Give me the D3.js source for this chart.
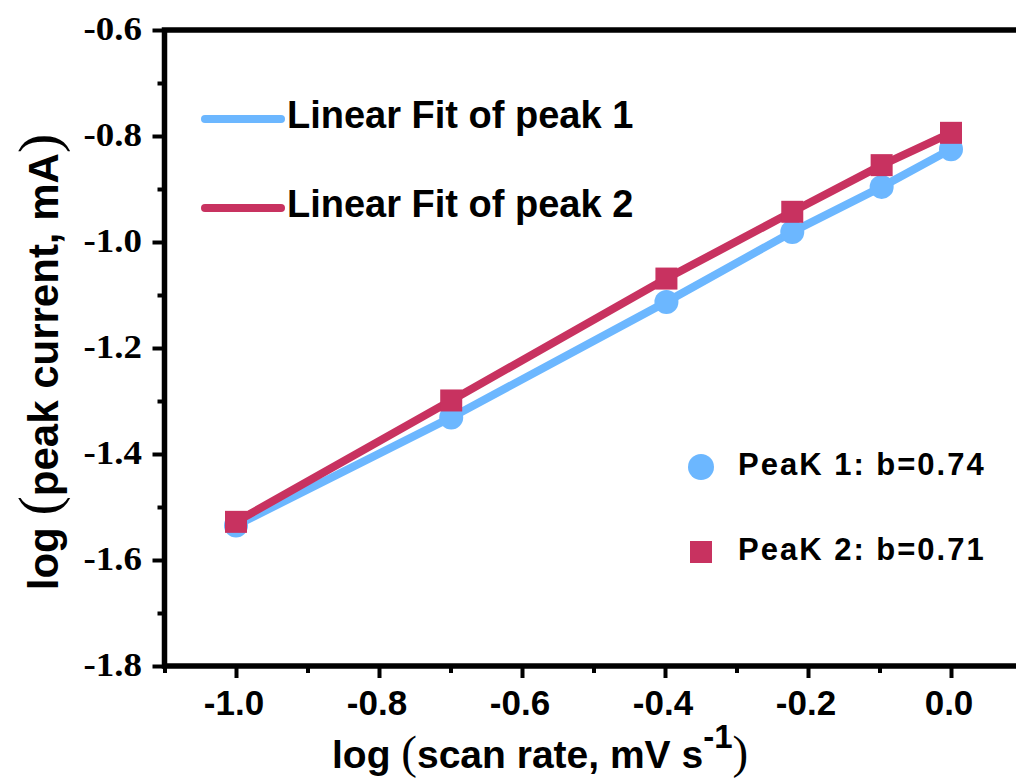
<!DOCTYPE html>
<html><head><meta charset="utf-8">
<script src="https://cdn.jsdelivr.net/npm/d3@7"></script>
<style>html,body{margin:0;padding:0;background:#fff;overflow:hidden}</style>
</head><body><svg id="c" width="1016" height="780" style="display:block"></svg>
<script>
const scanRateLog = [-1.0, -0.699, -0.398, -0.222, -0.097, 0.0];
const peak1 = [-1.535, -1.331, -1.113, -0.981, -0.896, -0.825];
const peak2 = [-1.528, -1.299, -1.069, -0.943, -0.855, -0.794];
const xMajorTicks = [-1.0, -0.8, -0.6, -0.4, -0.2, 0.0];
const xMinorTicks = [-1.1, -0.9, -0.7, -0.5, -0.3, -0.1, 0.1];
const yMajorTicks = [-0.6, -0.8, -1.0, -1.2, -1.4, -1.6, -1.8];
const yMinorTicks = [-0.7, -0.9, -1.1, -1.3, -1.5, -1.7];
const xTickLabels = ["-1.0", "-0.8", "-0.6", "-0.4", "-0.2", "0.0"];
const yTickLabels = ["-0.6", "-0.8", "-1.0", "-1.2", "-1.4", "-1.6", "-1.8"];
const lineNames = ["Linear Fit of peak 1", "Linear Fit of peak 2"];
const markerNames = ["PeaK 1: b=0.74", "PeaK 2: b=0.71"];
const colors = ["#6CB7FF", "#C83260"];

const SANS = "'Liberation Sans', Arial, sans-serif";
const SERIF = "'Liberation Serif', 'Times New Roman', serif";

const svg = d3.select("#c");
const x = d3.scaleLinear().domain([-1.1, 0.1]).range([164.5, 1022.5]);
const y = d3.scaleLinear().domain([-1.8, -0.6]).range([666, 30]);

// ticks
function styleAxis(g){ g.select(".domain").remove(); g.selectAll("line").attr("stroke","#000").attr("stroke-width",4); g.selectAll("text").remove(); }
svg.append("g").attr("transform","translate(164.5,0)").call(d3.axisLeft(y).tickValues(yMajorTicks).tickSize(12)).call(styleAxis);
svg.append("g").attr("transform","translate(164.5,0)").call(d3.axisLeft(y).tickValues(yMinorTicks).tickSize(7)).call(styleAxis);
svg.append("g").attr("transform","translate(0,666)").call(d3.axisBottom(x).tickValues(xMajorTicks).tickSize(12)).call(styleAxis);
svg.append("g").attr("transform","translate(0,666)").call(d3.axisBottom(x).tickValues(xMinorTicks).tickSize(7)).call(styleAxis);

// frame
svg.append("rect").attr("x", x(-1.1)).attr("y", y(-0.6))
  .attr("width", x(0.1) - x(-1.1)).attr("height", y(-1.8) - y(-0.6))
  .attr("fill","none").attr("stroke","#000").attr("stroke-width",5.5);

// tick labels
svg.append("g").selectAll("text").data(yMajorTicks).join("text")
  .attr("transform", (d) => `translate(142,${y(d)+10}) scale(1.12,1)`)
  .attr("text-anchor","end").attr("font-family",SERIF).attr("font-weight","bold")
  .attr("font-size",33).attr("fill","#000")
  .text((d,i) => yTickLabels[i]);
svg.append("g").selectAll("text").data(xMajorTicks).join("text")
  .attr("x", (d) => x(d) - 2).attr("y", 715)
  .attr("text-anchor","middle").attr("font-family",SANS).attr("font-weight","bold")
  .attr("font-size",35).attr("fill","#000")
  .text((d,i) => xTickLabels[i]);

// data
const series = [peak1, peak2];
const line = d3.line().x((d) => x(d[0])).y((d) => y(d[1]));
series.forEach((vals, si) => {
  const pts = scanRateLog.map((s, i) => [s, vals[i]]);
  svg.append("path").attr("d", line(pts)).attr("fill","none")
    .attr("stroke", colors[si]).attr("stroke-width",8).attr("stroke-linejoin","round");
  if (si === 0) {
    svg.append("g").selectAll("circle").data(pts).join("circle")
      .attr("cx", (d) => x(d[0])).attr("cy", (d) => y(d[1])).attr("r",12).attr("fill",colors[0]);
  } else {
    svg.append("g").selectAll("rect").data(pts).join("rect")
      .attr("x", (d) => x(d[0]) - 11).attr("y", (d) => y(d[1]) - 11)
      .attr("width",22).attr("height",22).attr("fill",colors[1]);
  }
});

// legend (lines)
const legY = [119, 208];
lineNames.forEach((name, i) => {
  svg.append("line").attr("x1",205).attr("x2",281).attr("y1",legY[i]).attr("y2",legY[i])
    .attr("stroke",colors[i]).attr("stroke-width",8).attr("stroke-linecap","round");
  svg.append("text").attr("x",287).attr("y",legY[i]+9)
    .attr("font-family",SANS).attr("font-weight","bold").attr("font-size",38).attr("fill","#000")
    .text(name);
});

// legend (markers)
const mkY = [467, 552];
svg.append("circle").attr("cx",701).attr("cy",mkY[0]).attr("r",13).attr("fill",colors[0]);
svg.append("rect").attr("x",690).attr("y",mkY[1]-11).attr("width",22).attr("height",22).attr("fill",colors[1]);
markerNames.forEach((name, i) => {
  svg.append("text").attr("x",738).attr("y",mkY[i]+8)
    .attr("font-family",SANS).attr("font-weight","bold").attr("font-size",31)
    .attr("letter-spacing",2).attr("fill","#000").text(name);
});

// axis titles
const xt = svg.append("text").attr("x",332).attr("y",768).attr("fill","#000");
xt.append("tspan").attr("font-family",SANS).attr("font-weight","bold").attr("font-size",39).text("log ");
xt.append("tspan").attr("font-family",SERIF).attr("font-size",47).text("(");
xt.append("tspan").attr("font-family",SANS).attr("font-weight","bold").attr("font-size",39).text("scan rate, mV s");
xt.append("tspan").attr("font-family",SANS).attr("font-weight","bold").attr("font-size",33).attr("dy",-20).text("-1");
xt.append("tspan").attr("font-family",SERIF).attr("font-size",47).attr("dy",20).text(")");

const yt = svg.append("text").attr("transform","translate(58,362) rotate(-90)")
  .attr("text-anchor","middle").attr("fill","#000");
yt.append("tspan").attr("font-family",SANS).attr("font-weight","bold").attr("font-size",42).text("log ");
yt.append("tspan").attr("font-family",SERIF).attr("font-size",58).text("(");
yt.append("tspan").attr("font-family",SANS).attr("font-weight","bold").attr("font-size",42).text("peak current, mA");
yt.append("tspan").attr("font-family",SERIF).attr("font-size",58).text(")");
</script></body></html>
